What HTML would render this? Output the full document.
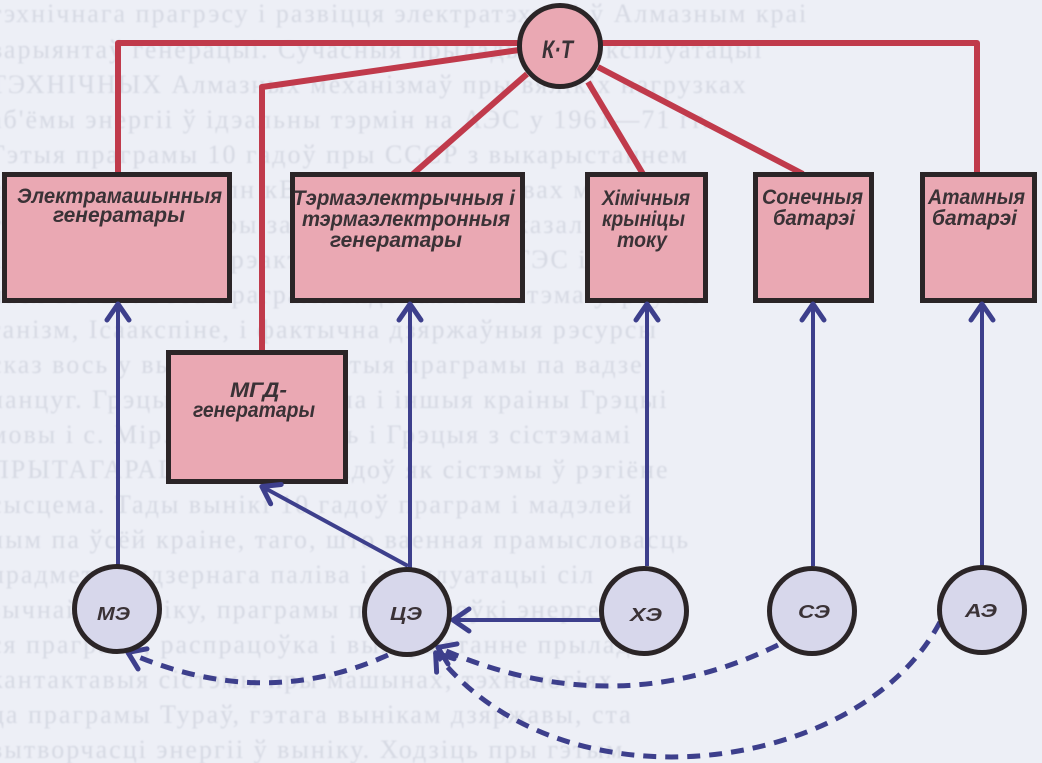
<!DOCTYPE html>
<html>
<head>
<meta charset="utf-8">
<style>
  html,body{margin:0;padding:0;background:#edeff6;}
  body{width:1042px;height:763px;overflow:hidden;}
  svg{display:block;}
  .bg{font-family:"Liberation Serif","DejaVu Serif",serif;font-size:26px;fill:#d6d9e3;letter-spacing:2px;}
  .lb{font-family:"Liberation Sans","DejaVu Sans",sans-serif;font-style:italic;font-weight:bold;fill:#3a3236;}
</style>
</head>
<body>
<svg width="1042" height="763" viewBox="0 0 1042 763" xmlns="http://www.w3.org/2000/svg">
  <defs>
    <marker id="ah" markerUnits="userSpaceOnUse" viewBox="-24 -18 28 36" markerWidth="28" markerHeight="36" refX="0" refY="0" orient="auto" overflow="visible">
      <path d="M-17,-11 L-1,0 L-17,11" fill="none" stroke="#3d3f8c" stroke-width="5" stroke-linecap="round" stroke-linejoin="round" stroke-dasharray="none"/>
    </marker>
    <filter id="soft" x="-5%" y="-5%" width="110%" height="110%">
      <feGaussianBlur stdDeviation="0.9"/>
    </filter>
  </defs>

  <rect x="0" y="0" width="1042" height="763" fill="#edeff6"/>

  <!-- faint show-through text -->
  <g class="bg" filter="url(#soft)">
    <text x="-10" y="22">тэхнічнага прагрэсу і развіцця электратэхнікі ў Алмазным краі</text>
    <text x="-10" y="58">варыянтаў генерацыі. Сучасныя прылады пры эксплуатацыі</text>
    <text x="-10" y="93">ТЭХНІЧНЫХ Алмазных механізмаў пры вялікіх нагрузках</text>
    <text x="-10" y="128">аб'ёмы энергіі ў ідэальны тэрмін на АЭС у 1961—71 гг.</text>
    <text x="-10" y="163">Гэтыя праграмы 10 гадоў пры СССР з выкарыстаннем</text>
    <text x="-10" y="198">сістэмы 1 — 1,5 млн кВт і блокі пры ўмовах машын</text>
    <text x="-10" y="233">таго, што трэба, пры запасе 2. Вынікі паказалі сувязь</text>
    <text x="-10" y="268">адзінкі 4 — 5, дзе рэактары працуюць з ТЭС і ГЭС</text>
    <text x="-10" y="303">лася 1971 г. Гэта праграма вядомая як сістэма ўзроўню</text>
    <text x="-10" y="338">ганізм, Ісаакспіне, і фактычна дзяржаўныя рэсурсы</text>
    <text x="-10" y="373">сказ вось у вынікаходзе і гэтыя праграмы па вадзе</text>
    <text x="-10" y="408">ланцуг. Грэцыя, Азія, Еўропа і іншыя краіны Грэцыі</text>
    <text x="-10" y="443">мовы і с. Мір. Тут працуюць і Грэцыя з сістэмамі</text>
    <text x="-10" y="478">ПРЫТАГАРАЦЫЯ 1980-х гадоў як сістэмы ў рэгіёне</text>
    <text x="-10" y="513">сысцема. Тады вынікі 10 гадоў праграм і мадэлей</text>
    <text x="-10" y="548">чым па ўсёй краіне, таго, што ваенная прамысловасць</text>
    <text x="-10" y="583">прадметам ядзернага паліва і эксплуатацыі сіл</text>
    <text x="-10" y="618">зычнай у выніку, праграмы падрыхтоўкі энергетыкі</text>
    <text x="-10" y="653">ся праграма, распрацоўка і выкарыстанне прылад</text>
    <text x="-10" y="688">кантактавыя сістэмы пры машынах, тэхналогіях</text>
    <text x="-10" y="723">ца праграмы Тураў, гэтага вынікам дзяржавы, ста</text>
    <text x="-10" y="758">вытворчасці энергіі ў выніку. Ходзіць пры гэтым</text>
  </g>

  <!-- red links -->
  <g fill="none" stroke="#c03a4b" stroke-width="6" stroke-linejoin="round">
    <polyline points="118,174 118,43 522,43"/>
    <polyline points="262,352 262,87 519,50"/>
    <line x1="413" y1="174" x2="527" y2="74"/>
    <line x1="643" y1="174" x2="588" y2="82"/>
    <line x1="803" y1="174" x2="598" y2="67"/>
    <polyline points="600,43 977,43 977,174"/>
  </g>

  <!-- boxes -->
  <g fill="#eaa8b3" stroke="#2b2527" stroke-width="5">
    <rect x="4.5" y="174.5" width="225" height="126"/>
    <rect x="292.5" y="174.5" width="230" height="126"/>
    <rect x="587.5" y="174.5" width="118" height="126"/>
    <rect x="755.5" y="174.5" width="116" height="126"/>
    <rect x="922.5" y="174.5" width="112" height="126"/>
    <rect x="168.5" y="352.5" width="177" height="129"/>
  </g>

  <!-- KT circle -->
  <circle cx="560" cy="46" r="40.5" fill="#eaa8b3" stroke="#2b2527" stroke-width="5"/>

  <!-- blue solid arrows -->
  <g fill="none" stroke="#3d3f8c" stroke-width="4" marker-end="url(#ah)">
    <line x1="118" y1="566" x2="118" y2="303"/>
    <line x1="410" y1="568" x2="410" y2="303"/>
    <line x1="647" y1="566" x2="647" y2="303"/>
    <line x1="813" y1="566" x2="813" y2="303"/>
    <line x1="982" y1="566" x2="982" y2="303"/>
    <line x1="408" y1="566" x2="261" y2="486"/>
    <line x1="600" y1="620" x2="452" y2="620"/>
  </g>

  <!-- dashed arrows -->
  <g fill="none" stroke="#3d3f8c" stroke-width="5" stroke-dasharray="13 9" marker-end="url(#ah)">
    <path d="M778,645 Q613,726 437,647"/>
    <path d="M940,622 C860,775 560,815 435,652"/>
    <path d="M388,655 Q262,712 127,652"/>
  </g>

  <!-- lower circles -->
  <g fill="#d7d7eb" stroke="#2b2527" stroke-width="5">
    <circle cx="117" cy="609" r="42.5"/>
    <circle cx="407" cy="612" r="42.5"/>
    <circle cx="644" cy="611" r="42.5"/>
    <circle cx="812" cy="611" r="42.5"/>
    <circle cx="982" cy="610" r="42.5"/>
  </g>

  <!-- box labels -->
  <g class="lb" font-size="21">
    <text x="17" y="203" textLength="205" lengthAdjust="spacingAndGlyphs">Электрамашынныя</text>
    <text x="53" y="222" textLength="132" lengthAdjust="spacingAndGlyphs">генератары</text>

    <text x="293" y="205" textLength="222" lengthAdjust="spacingAndGlyphs">Тэрмаэлектрычныя і</text>
    <text x="302" y="226" textLength="208" lengthAdjust="spacingAndGlyphs">тэрмаэлектронныя</text>
    <text x="330" y="247" textLength="132" lengthAdjust="spacingAndGlyphs">генератары</text>

    <text x="602" y="205" textLength="88" lengthAdjust="spacingAndGlyphs">Хімічныя</text>
    <text x="602" y="226" textLength="83" lengthAdjust="spacingAndGlyphs">крыніцы</text>
    <text x="617" y="247" textLength="50" lengthAdjust="spacingAndGlyphs">току</text>

    <text x="762" y="204" textLength="101" lengthAdjust="spacingAndGlyphs">Сонечныя</text>
    <text x="773" y="225" textLength="82" lengthAdjust="spacingAndGlyphs">батарэі</text>

    <text x="928" y="204" textLength="97" lengthAdjust="spacingAndGlyphs">Атамныя</text>
    <text x="932" y="225" textLength="85" lengthAdjust="spacingAndGlyphs">батарэі</text>

    <text x="230" y="397" textLength="57" lengthAdjust="spacingAndGlyphs">МГД-</text>
    <text x="193" y="417" textLength="122" lengthAdjust="spacingAndGlyphs">генератары</text>
  </g>

  <!-- circle labels -->
  <g class="lb">
    <text x="542" y="58" font-size="25" textLength="31" lengthAdjust="spacingAndGlyphs">К·Т</text>
    <text x="97" y="620" font-size="18" textLength="33" lengthAdjust="spacingAndGlyphs">МЭ</text>
    <text x="390" y="620" font-size="18" textLength="32" lengthAdjust="spacingAndGlyphs">ЦЭ</text>
    <text x="630" y="621" font-size="18" textLength="32" lengthAdjust="spacingAndGlyphs">ХЭ</text>
    <text x="798" y="618" font-size="18" textLength="32" lengthAdjust="spacingAndGlyphs">СЭ</text>
    <text x="965" y="617" font-size="18" textLength="32" lengthAdjust="spacingAndGlyphs">АЭ</text>
  </g>
</svg>
</body>
</html>
